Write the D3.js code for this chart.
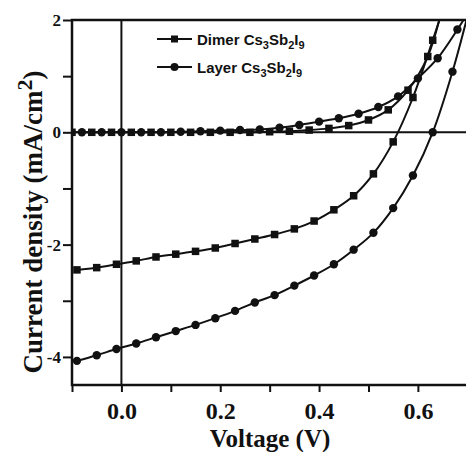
<!DOCTYPE html>
<html>
<head>
<meta charset="utf-8">
<script src="https://cdn.jsdelivr.net/npm/d3@7"></script>
<style>
  body { margin: 0; background: #fff; }
  svg { display: block; }
</style>
</head>
<body>
<script type="text/javascript">
var w = 466;
var h = 452;

// light curves, one marker every 0.04 V
var lightV = [-0.09,-0.05,-0.01,0.03,0.07,0.11,0.15,0.19,0.23,0.27,0.31,0.35,0.39,0.43,0.47,0.51,0.55,0.59,0.63,0.67,0.71];
var dimerLight = [-2.45,-2.41,-2.35,-2.29,-2.22,-2.17,-2.12,-2.06,-1.98,-1.90,-1.82,-1.72,-1.58,-1.38,-1.13,-0.74,-0.17,0.62,1.64,2.7,3.8];
var layerLight = [-4.07,-3.97,-3.86,-3.76,-3.65,-3.54,-3.43,-3.31,-3.18,-3.03,-2.90,-2.73,-2.55,-2.35,-2.09,-1.79,-1.35,-0.77,0.0,1.08,2.4];

// dark curves
var dimerDarkV = [-0.10,-0.06,-0.02,0.02,0.06,0.10,0.14,0.18,0.22,0.26,0.30,0.34,0.38,0.42,0.46,0.50,0.54,0.58,0.62,0.66];
var dimerDark = [0.0,0.0,0.0,0.0,0.0,0.0,0.0,0.0,0.0,0.0,0.01,0.02,0.04,0.07,0.12,0.22,0.40,0.75,1.35,2.6];
var layerDarkV = [-0.08,-0.04,0.0,0.04,0.08,0.12,0.16,0.20,0.24,0.28,0.32,0.36,0.40,0.44,0.48,0.52,0.56,0.60,0.64,0.68,0.72];
var layerDark = [0.0,0.0,0.0,0.0,0.0,0.01,0.02,0.03,0.04,0.05,0.08,0.13,0.19,0.25,0.33,0.45,0.64,0.96,1.32,1.83,2.4];

var xTicks = [-0.1,0.0,0.1,0.2,0.3,0.4,0.5,0.6,0.7];
var xLabels = [0.0,0.2,0.4,0.6];
var yTicks = [-4,-3,-2,-1,0,1,2];
var yLabels = [-4,-2,0,2];

var legendNames = ["Dimer", "Layer"];

var pL = 72, pT = 20, pR = 467.3, pB = 385;
var x = d3.scaleLinear().domain([-0.1,0.7]).range([pL,pR]);
var y = d3.scaleLinear().domain([-4.5,2]).range([pB,pT]);

const svg = d3.select("body").append("svg").attr('width', w).attr('height', h).style('background-color', 'white');

svg.append('defs').append('clipPath').attr('id','plot')
  .append('rect').attr('x',pL).attr('y',pT).attr('width',pR-pL).attr('height',pB-pT);

//AXES
var xAxis = svg.append('g').attr('transform','translate(0,'+pB+')')
  .call(d3.axisBottom(x).tickValues(xTicks).tickSize(7).tickFormat(function(d){
    return xLabels.some(function(v){return Math.abs(v-d)<1e-9;}) ? d3.format('.1f')(d) : '';
  }));
xAxis.select('.domain').remove();
xAxis.selectAll('line').attr('stroke','#111').attr('stroke-width',2);
xAxis.selectAll('text').attr('font-family','"Liberation Serif", "Times New Roman", serif')
  .attr('font-weight','bold').attr('font-size',24).attr('fill','#111').attr('dy','1.0em');

var yAxis = svg.append('g').attr('transform','translate('+pL+',0)')
  .call(d3.axisLeft(y).tickValues(yTicks).tickSize(9).tickFormat(function(d){
    return yLabels.indexOf(d) >= 0 ? String(d) : '';
  }));
yAxis.select('.domain').remove();
yAxis.selectAll('line').attr('stroke','#111').attr('stroke-width',2);
yAxis.selectAll('text').attr('font-family','"Liberation Serif", "Times New Roman", serif')
  .attr('font-weight','bold').attr('font-size',17).attr('fill','#111').attr('x',-11);

//FRAME AND ZERO LINES
svg.append('rect').attr('x',pL).attr('y',pT).attr('width',pR-pL).attr('height',pB-pT)
  .attr('fill','none').attr('stroke','#111').attr('stroke-width',2.5);
svg.append('line').attr('x1',pL).attr('x2',pR).attr('y1',y(0)).attr('y2',y(0))
  .attr('stroke','#111').attr('stroke-width',2);
svg.append('line').attr('x1',x(0)).attr('x2',x(0)).attr('y1',pT).attr('y2',pB)
  .attr('stroke','#111').attr('stroke-width',2);

//CURVES
var plot = svg.append('g').attr('clip-path','url(#plot)');
var line = d3.line().x(function(d){return x(d[0]);}).y(function(d){return y(d[1]);}).curve(d3.curveCatmullRom);

function drawCurve(vs, js, shape){
  var pts = vs.map(function(v,i){return [v, js[i]];});
  plot.append('path').datum(pts).attr('d', line).attr('fill','none').attr('stroke','#111').attr('stroke-width',2);
  if (shape == 'square') {
    plot.selectAll(null).data(pts).enter().append('rect')
      .attr('x',function(d){return x(d[0])-3.75;}).attr('y',function(d){return y(d[1])-3.75;})
      .attr('width',7.5).attr('height',7.5).attr('fill','#111');
  } else {
    plot.selectAll(null).data(pts).enter().append('circle')
      .attr('cx',function(d){return x(d[0]);}).attr('cy',function(d){return y(d[1]);})
      .attr('r',4.2).attr('fill','#111');
  }
}
drawCurve(dimerDarkV, dimerDark, 'square');
drawCurve(layerDarkV, layerDark, 'circle');
drawCurve(lightV, dimerLight, 'square');
drawCurve(lightV, layerLight, 'circle');

//LEGEND
legendNames.forEach(function(name, i){
  var ly = 39 + i*28;
  var g = svg.append('g');
  g.append('line').attr('x1',157).attr('x2',192).attr('y1',ly).attr('y2',ly).attr('stroke','#111').attr('stroke-width',2);
  if (i == 0) g.append('rect').attr('x',171).attr('y',ly-3.5).attr('width',7).attr('height',7).attr('fill','#111');
  else g.append('circle').attr('cx',174.5).attr('cy',ly).attr('r',4).attr('fill','#111');
  var t = g.append('text').attr('x',197).attr('y',ly+6).attr('font-family','"Liberation Sans", Arial, sans-serif')
    .attr('font-size',15).attr('font-weight','bold').attr('fill','#111');
  t.append('tspan').text(name + ' Cs');
  t.append('tspan').attr('font-size',11).attr('dy',4).text('3');
  t.append('tspan').attr('dy',-4).text('Sb');
  t.append('tspan').attr('font-size',11).attr('dy',4).text('2');
  t.append('tspan').attr('dy',-4).text('I');
  t.append('tspan').attr('font-size',11).attr('dy',4).text('9');
});

//AXIS TITLES
svg.append('text').attr('x',270).attr('y',447).attr('text-anchor','middle')
  .attr('font-family','"Liberation Serif", "Times New Roman", serif').attr('font-weight','bold')
  .attr('font-size',25).attr('fill','#111').text('Voltage (V)');

var yt = svg.append('text').attr('transform','translate(42,222) rotate(-90)').attr('text-anchor','middle')
  .attr('font-family','"Liberation Serif", "Times New Roman", serif').attr('font-weight','bold')
  .attr('font-size',27).attr('fill','#111');
yt.append('tspan').text('Current density (mA/cm');
yt.append('tspan').attr('font-size',22).attr('dy',-10).text('2');
yt.append('tspan').attr('dy',10).text(')');
</script>
</body>
</html>
